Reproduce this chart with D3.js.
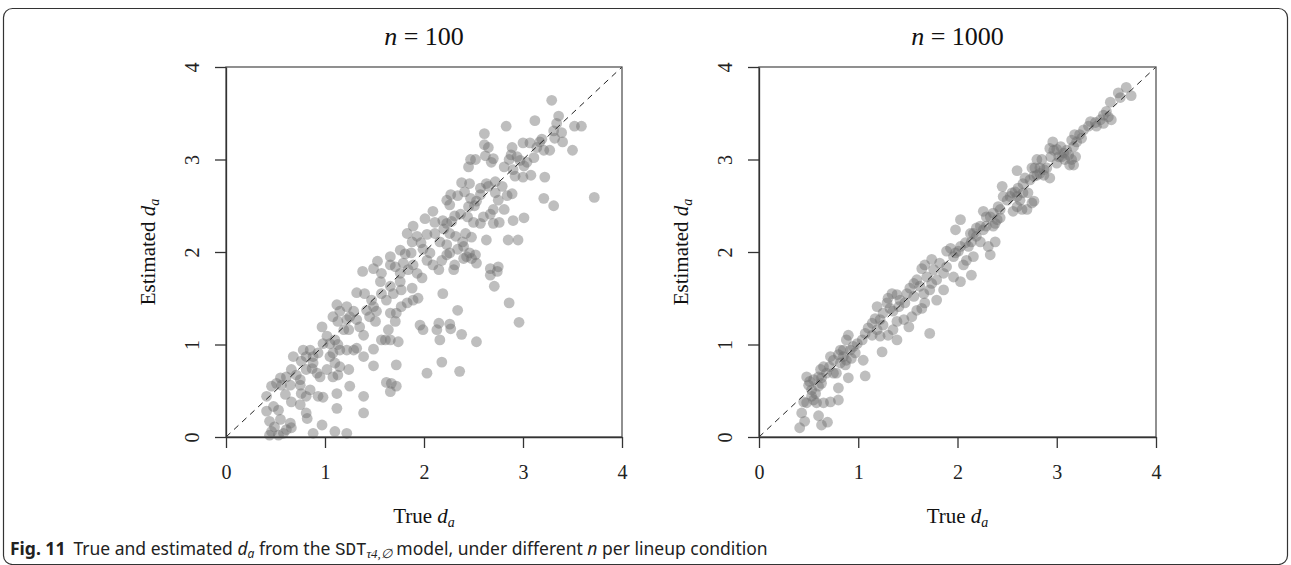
<!DOCTYPE html>
<html><head><meta charset="utf-8">
<script src="https://cdn.jsdelivr.net/npm/d3@7"></script>
<style>body{margin:0;background:#fff}svg{display:block}</style>
</head><body>
<svg id="c" width="1291" height="565"></svg>
<script>
// ---- data ----
const tickValues = [0, 1, 2, 3, 4];
const panelTitles = ["100", "1000"];
// [true d_a, estimated d_a], n = 100
const pointsN100 = [
[3.29,3.64],[3.36,3.47],[3.12,3.42],[2.83,3.36],[3.52,3.36],[3.59,3.36],[3.34,3.39],[3.31,3.31],[3.39,3.29],[3.32,3.23],[3.40,3.19],[3.19,3.22],[3.50,3.10],[2.61,3.28],[2.61,3.16],[2.65,3.13],[2.89,3.13],[3.00,3.18],[3.07,3.18],[3.14,3.13],[3.21,3.10],[3.27,3.10],[3.17,3.19],[2.47,3.00],[2.52,3.00],[2.45,2.92],[2.62,3.04],[2.70,3.01],[2.68,2.97],[2.88,3.05],[2.94,3.03],[2.86,3.00],[2.97,2.99],[3.04,2.97],[3.01,2.93],[3.11,3.02],[2.81,2.92],[2.90,2.89],[2.92,2.82],[3.00,2.81],[3.08,2.83],[3.22,2.81],[2.38,2.75],[2.46,2.74],[2.57,2.69],[2.63,2.74],[2.65,2.71],[2.72,2.76],[2.79,2.71],[2.72,2.64],[2.84,2.61],[2.75,2.56],[2.89,2.63],[2.81,2.46],[3.21,2.58],[3.31,2.50],[3.72,2.59],[2.23,2.56],[2.27,2.62],[2.34,2.61],[2.26,2.51],[2.41,2.65],[2.47,2.58],[2.45,2.49],[2.51,2.50],[2.57,2.62],[2.53,2.55],[2.70,2.46],[2.67,2.41],[2.09,2.44],[2.01,2.36],[2.11,2.32],[2.19,2.34],[2.23,2.31],[2.28,2.33],[2.31,2.39],[2.37,2.41],[2.44,2.38],[2.50,2.32],[2.57,2.31],[2.60,2.38],[2.70,2.31],[2.76,2.32],[2.90,2.34],[3.01,2.37],[2.63,2.13],[2.85,2.13],[2.95,2.13],[1.83,2.20],[1.89,2.28],[1.93,2.17],[2.03,2.19],[1.97,2.10],[1.88,2.11],[2.11,2.20],[2.20,2.25],[2.26,2.20],[2.32,2.17],[2.42,2.20],[2.48,2.16],[2.39,2.11],[2.23,2.08],[2.16,2.11],[1.76,2.02],[1.81,1.98],[1.66,1.95],[1.87,1.99],[1.99,2.03],[2.06,1.99],[2.26,1.99],[2.34,2.03],[2.40,2.06],[2.46,1.99],
[1.53,1.90],[1.66,1.86],[1.71,1.84],[1.57,1.77],[1.49,1.82],[1.89,1.86],[1.93,1.77],[2.03,1.91],[2.09,1.86],[2.15,1.81],[1.79,1.88],[1.84,1.81],[1.98,1.72],[1.76,1.77],[1.38,1.79],[1.32,1.56],[1.40,1.55],[1.56,1.68],[1.57,1.55],[1.47,1.48],[1.49,1.41],[1.52,1.36],[1.45,1.30],[1.51,1.25],[1.42,1.37],[1.62,1.48],[1.69,1.55],[1.66,1.63],[1.77,1.59],[1.76,1.68],[1.83,1.45],[1.89,1.48],[1.94,1.50],[1.77,1.41],[1.72,1.34],[1.66,1.34],[1.71,1.25],[1.88,1.61],[1.29,1.36],[1.22,1.41],[1.25,1.30],[1.32,1.27],[1.35,1.19],[1.39,1.10],[1.12,1.43],[1.08,1.30],[1.13,1.25],[1.19,1.16],[1.22,1.27],[1.15,1.36],[1.24,1.16],[0.97,1.19],[1.02,1.09],[0.98,1.01],[1.05,1.01],[1.10,1.05],[1.13,1.00],[1.08,0.91],[1.15,0.94],[1.22,0.94],[1.29,0.94],[1.32,0.96],[1.39,0.87],[1.49,0.95],[1.64,1.16],[1.66,1.05],[1.61,1.05],[1.74,1.03],[1.57,1.05],[1.96,1.21],[1.99,1.16],[2.13,1.16],[2.15,1.23],[0.85,0.94],[0.78,0.94],[0.88,0.87],[0.93,0.91],[0.81,0.87],[0.88,0.80],[0.76,0.82],[0.81,0.73],[0.87,0.74],[0.92,0.69],[0.95,0.65],[1.02,0.73],[1.05,0.87],[1.10,0.80],[1.15,0.76],[1.13,0.67],[1.08,0.65],[1.24,0.73],[1.49,0.77],[1.72,0.78],[2.03,0.69],[0.68,0.87],[0.66,0.73],[0.71,0.67],[0.75,0.62],[0.75,0.56],[0.76,0.47],[0.81,0.44],[0.85,0.51],[0.93,0.44],[0.98,0.43],[1.12,0.47],[0.61,0.65],[0.55,0.64],[0.51,0.58],[0.46,0.55],[0.41,0.44],[0.56,0.56],[0.65,0.56],[0.60,0.46],[0.66,0.38],[0.75,0.35],[1.25,0.55],[1.39,0.44],[1.62,0.59],[1.67,0.58],[1.72,0.55],[1.66,0.49],[0.48,0.33],[0.41,0.28],[0.53,0.29],[0.44,0.17],[0.55,0.19],[0.49,0.11],[0.61,0.08],[0.66,0.10],[0.58,0.04],[0.65,0.15],[0.46,0.06],[0.44,0.02],[0.53,0.02],[0.81,0.26],[0.82,0.20],[0.97,0.13],[0.88,0.04],[1.10,0.06],[1.22,0.04],[1.12,0.31],[1.39,0.26],
[2.23,1.97],[2.43,1.95],[2.48,1.93],[2.52,1.97],[2.53,1.88],[2.40,1.93],[2.31,1.86],[2.30,1.81],[2.18,1.91],[2.67,1.82],[2.75,1.84],[2.74,1.79],[2.67,1.75],[2.71,1.63],[2.19,1.55],[2.86,1.45],[2.34,1.37],[2.96,1.24],[2.26,1.22],[2.27,1.17],[2.38,1.11],[2.53,1.03],[2.16,1.05],[2.18,0.81],[2.36,0.71]
];
// [true d_a, estimated d_a], n = 1000
const pointsN1000 = [
[3.70,3.78],[3.75,3.69],[3.62,3.72],[3.64,3.67],[3.54,3.62],[3.50,3.52],[3.55,3.43],[3.52,3.46],[3.47,3.48],[3.44,3.43],[3.39,3.40],[3.40,3.36],[3.34,3.41],[3.47,3.39],[3.32,3.36],[3.27,3.32],[3.23,3.27],[3.25,3.23],[3.18,3.27],[3.15,3.21],[3.20,3.19],[3.17,3.14],[3.10,3.10],[3.07,3.07],[3.05,3.03],[3.12,3.05],[3.15,3.00],[3.13,2.94],[3.17,2.94],[3.19,3.03],[3.08,3.00],[3.02,3.03],[3.00,2.96],[2.97,3.10],[2.96,3.19],[2.93,3.12],[2.94,3.03],[3.00,3.11],[3.04,3.14],[2.90,2.91],[2.87,2.89],[2.83,2.91],[2.78,2.91],[2.80,3.00],[2.85,3.00],[2.75,2.91],[2.77,2.82],[2.73,2.78],[2.68,2.80],[2.80,2.83],[2.83,2.85],[2.87,2.83],[2.93,2.80],[2.60,2.88],[2.66,2.74],[2.61,2.69],[2.58,2.65],[2.55,2.64],[2.53,2.60],[2.60,2.60],[2.63,2.56],[2.66,2.64],[2.71,2.64],[2.77,2.55],[2.75,2.53],[2.70,2.46],[2.65,2.46],[2.60,2.49],[2.56,2.44],[2.50,2.56],[2.46,2.60],[2.45,2.71],[2.36,2.42],[2.33,2.38],[2.43,2.46],[2.41,2.49],[2.43,2.37],[2.38,2.31],[2.40,2.35],[2.36,2.28],[2.29,2.38],[2.26,2.44],[2.29,2.28],[2.26,2.24],[2.23,2.28],[2.19,2.26],[2.16,2.20],[2.19,2.17],[2.23,2.11],[2.14,2.11],[2.13,2.20],[2.11,2.06],[2.08,2.10],[2.03,2.06],[1.98,1.99],[1.93,2.04],[1.96,1.95],[1.89,2.01],[2.03,2.35],[1.98,2.24],[2.38,2.11],[2.31,2.06],[2.33,1.97],[2.01,2.01],
[2.09,1.91],[2.06,1.86],[2.16,1.95],[2.14,1.75],[2.03,1.68],[1.96,1.73],[1.86,1.77],[1.89,1.84],[1.82,1.88],[1.76,1.81],[1.69,1.73],[1.79,1.70],[1.74,1.66],[1.64,1.82],[1.67,1.86],[1.59,1.70],[1.56,1.66],[1.62,1.63],[1.66,1.55],[1.72,1.59],[1.86,1.59],[1.79,1.48],[1.67,1.45],[1.49,1.55],[1.52,1.61],[1.42,1.48],[1.39,1.54],[1.34,1.55],[1.30,1.50],[1.29,1.45],[1.32,1.39],[1.25,1.34],[1.35,1.36],[1.41,1.41],[1.47,1.45],[1.56,1.52],[1.59,1.37],[1.64,1.39],[1.54,1.30],[1.51,1.19],[1.46,1.27],[1.39,1.25],[1.35,1.16],[1.39,1.05],[1.30,1.10],[1.25,1.21],[1.22,1.27],[1.17,1.28],[1.14,1.23],[1.10,1.18],[1.07,1.12],[1.14,1.10],[1.19,1.16],[1.22,1.09],[1.19,1.41],[1.24,0.92],[1.72,1.12],[1.04,1.05],[0.99,1.01],[0.95,0.98],[0.90,1.10],[0.88,1.05],[0.92,0.94],[0.97,0.91],[0.85,0.94],[0.82,0.94],[0.80,0.89],[0.85,0.87],[0.82,0.80],[0.87,0.78],[0.75,0.83],[0.72,0.87],[0.71,0.76],[0.65,0.76],[0.62,0.73],[0.60,0.65],[0.63,0.64],[0.68,0.69],[0.75,0.69],[0.78,0.69],[0.88,0.83],[0.93,0.85],[1.05,0.83],[1.07,0.66],[0.90,0.64],[0.55,0.62],[0.51,0.60],[0.48,0.65],[0.50,0.56],[0.53,0.51],[0.57,0.47],[0.60,0.55],[0.63,0.58],[0.53,0.44],[0.45,0.38],[0.48,0.37],[0.55,0.40],[0.58,0.37],[0.65,0.37],[0.72,0.38],[0.80,0.40],[0.80,0.53],[0.43,0.26],[0.46,0.17],[0.41,0.10],[0.60,0.23],[0.63,0.13],[0.69,0.16],[1.74,1.92]
];

// ---- layout ----
const svg = d3.select("#c");
const serif = "'Liberation Serif','DejaVu Serif',serif";
const plotTop = 67, plotBottom = 437;
const panels = [
  {left: 226, right: 622, data: pointsN100, title: panelTitles[0]},
  {left: 759, right: 1156, data: pointsN1000, title: panelTitles[1]}
];

// frame
svg.append("rect").attr("x", 3.5).attr("y", 8.5).attr("width", 1284).attr("height", 556)
  .attr("rx", 9).attr("fill", "none").attr("stroke", "#333").attr("stroke-width", 1.2);

panels.forEach(p => {
  const x = d3.scaleLinear().domain([0, 4]).range([p.left, p.right]);
  const y = d3.scaleLinear().domain([0, 4]).range([plotBottom, plotTop]);
  const g = svg.append("g");

  // points
  g.append("g").selectAll("circle").data(p.data).join("circle")
    .attr("cx", d => x(d[0])).attr("cy", d => y(d[1])).attr("r", 5.4)
    .attr("fill", "#6e6e6e").attr("fill-opacity", 0.45);

  // diagonal
  g.append("line").attr("x1", x(0)).attr("y1", y(0)).attr("x2", x(4)).attr("y2", y(4))
    .attr("stroke", "#222").attr("stroke-width", 1).attr("stroke-dasharray", "6,5");

  // box
  g.append("rect").attr("x", x(0)).attr("y", y(4)).attr("width", x(4) - x(0)).attr("height", y(0) - y(4))
    .attr("fill", "none").attr("stroke", "#555").attr("stroke-width", 1.3);

  // x axis
  const gx = g.append("g").attr("transform", `translate(0,${plotBottom})`)
    .call(d3.axisBottom(x).tickValues(tickValues).tickSize(11).tickSizeOuter(0).tickFormat(d3.format("d")));
  gx.selectAll("path,line").attr("stroke", "#333").attr("stroke-width", 1.3);
  gx.selectAll("text").attr("y", 35).attr("dy", "0.35em").attr("font-family", serif)
    .attr("font-size", 20).attr("fill", "#222");

  // y axis
  const gy = g.append("g").attr("transform", `translate(${p.left},0)`)
    .call(d3.axisLeft(y).tickValues(tickValues).tickSize(11).tickSizeOuter(0).tickFormat(d3.format("d")));
  gy.selectAll("path,line").attr("stroke", "#333").attr("stroke-width", 1.3);
  gy.selectAll(".tick text").attr("x", 0)
    .attr("transform", "translate(-34,0) rotate(-90)")
    .attr("text-anchor", "middle").attr("dy", "0.35em")
    .attr("font-family", serif).attr("font-size", 20).attr("fill", "#222");

  const cx = (p.left + p.right) / 2;
  // title
  const t = g.append("text").attr("x", cx).attr("y", 36).attr("dy", "0.35em")
    .attr("text-anchor", "middle").attr("font-family", serif).attr("font-size", 26).attr("fill", "#111");
  t.append("tspan").attr("font-style", "italic").text("n");
  t.append("tspan").text(" = " + p.title);

  // x label
  const xl = g.append("text").attr("x", cx).attr("y", 516).attr("dy", "0.35em")
    .attr("text-anchor", "middle").attr("font-family", serif).attr("font-size", 21).attr("fill", "#111");
  xl.append("tspan").text("True ");
  xl.append("tspan").attr("font-style", "italic").text("d");
  xl.append("tspan").attr("font-style", "italic").attr("font-size", 14).attr("dy", 4).text("a");

  // y label
  const yl = g.append("text").attr("transform", `translate(${p.left - 78},${(plotTop + plotBottom) / 2}) rotate(-90)`)
    .attr("text-anchor", "middle").attr("dy", "0.35em").attr("font-family", serif).attr("font-size", 21).attr("fill", "#111");
  yl.append("tspan").text("Estimated ");
  yl.append("tspan").attr("font-style", "italic").text("d");
  yl.append("tspan").attr("font-style", "italic").attr("font-size", 14).attr("dy", 4).text("a");
});

// caption
const sans = "'Noto Sans','Open Sans',sans-serif";
const cap = svg.append("text").attr("x", 10).attr("y", 555).attr("font-family", sans)
  .attr("font-size", 17.5).attr("fill", "#222");
cap.append("tspan").attr("font-weight", "bold").text("Fig. 11");
cap.append("tspan").attr("dx", 8).text("True and estimated ");
cap.append("tspan").attr("font-style", "italic").text("d");
cap.append("tspan").attr("font-style", "italic").attr("font-size", 12).attr("dy", 3).text("a");
cap.append("tspan").attr("dy", -3).text(" from the ");
cap.append("tspan").attr("font-family", "'Liberation Mono','DejaVu Sans Mono',monospace").text("SDT");
cap.append("tspan").attr("font-family", serif).attr("font-style", "italic").attr("font-size", 13).attr("dy", 3).text("τ4,∅");
cap.append("tspan").attr("dy", -3).text(" model, under different ");
cap.append("tspan").attr("font-style", "italic").text("n");
cap.append("tspan").text(" per lineup condition");
</script>
</body></html>
